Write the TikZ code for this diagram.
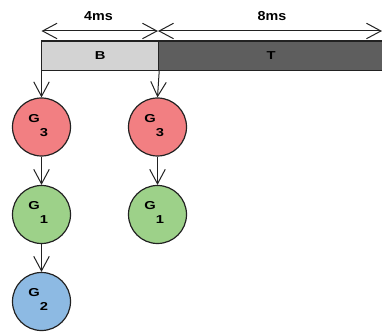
\documentclass[tikz,border=0pt]{standalone}
\usepackage{fontspec}
\setmainfont{Liberation Sans}
\newfontfamily\wfont[FakeStretch=1.28]{Liberation Sans}
\newfontfamily\mfont[FakeStretch=1.1]{Liberation Sans}
\usetikzlibrary{arrows.meta}
\definecolor{cred}{HTML}{F27F82}
\definecolor{cgreen}{HTML}{9DD189}
\definecolor{cblue}{HTML}{8DBAE3}
\definecolor{clight}{HTML}{D3D3D3}
\definecolor{cdark}{HTML}{5E5E5E}
\definecolor{cline}{HTML}{222222}
\tikzset{
  barb/.tip={Straight Barb[length=14.5pt,width=15.5pt,line width=1pt]},
  lbl/.style={font=\mfont\bfseries\fontsize{13}{13}\selectfont, text=black},
  circ/.style={circle, draw=cline, line width=1.2pt, minimum size=58pt, inner sep=0pt,
    font=\wfont\bfseries\fontsize{11.5}{11.5}\selectfont},
  seg/.style={draw=cline, line width=1.2pt, minimum height=29.5pt, inner sep=0pt, anchor=north west,
    font=\wfont\bfseries\fontsize{11.5}{11.5}\selectfont},
  conn/.style={draw=cline, line width=1pt, -barb},
  dim/.style={draw=cline, line width=1pt, barb-barb},
}
\newcommand{\gsub}[1]{\rule[-14pt]{0pt}{28pt}\makebox[0pt]{\hspace*{-15pt}\raisebox{4.8pt}{G}}\makebox[0pt]{\hspace*{5pt}\raisebox{-9.2pt}{#1}}}
\begin{document}
\begin{tikzpicture}[x=1pt,y=-1pt]
\useasboundingbox (0,0) rectangle (382,336);
\node[seg, fill=clight, minimum width=117pt] (B) at (41,40.5) {\raisebox{1.2pt}{B}};
\node[seg, fill=cdark, minimum width=225pt] (T) at (158,40.5) {\raisebox{1.2pt}{T}};
\coordinate (d1) at (41.5,31);
\coordinate (d2) at (158,31);
\coordinate (d3) at (382,31);
\draw[dim] (d1) -- (d2);
\draw[dim] (d2) -- (d3);
\node[lbl] (l4) at (98.5,16) {4ms};
\node[lbl] (l8) at (272,16) {8ms};
\node[circ, fill=cred] (a1) at (41.5,127) {\gsub{3}};
\node[circ, fill=cgreen] (a2) at (41.5,214.5) {\gsub{1}};
\node[circ, fill=cblue] (a3) at (41.5,301.5) {\gsub{2}};
\node[circ, fill=cred] (b1) at (157.5,127) {\gsub{3}};
\node[circ, fill=cgreen] (b2) at (157.5,214.5) {\gsub{1}};
\draw[conn] (B.south west) ++(0.5,0) -- (a1.north);
\draw[conn] (a1) -- (a2);
\draw[conn] (a2) -- (a3);
\draw[conn] (B.south east) -- (b1.north);
\draw[conn] (b1) -- (b2);
\end{tikzpicture}
\end{document}
